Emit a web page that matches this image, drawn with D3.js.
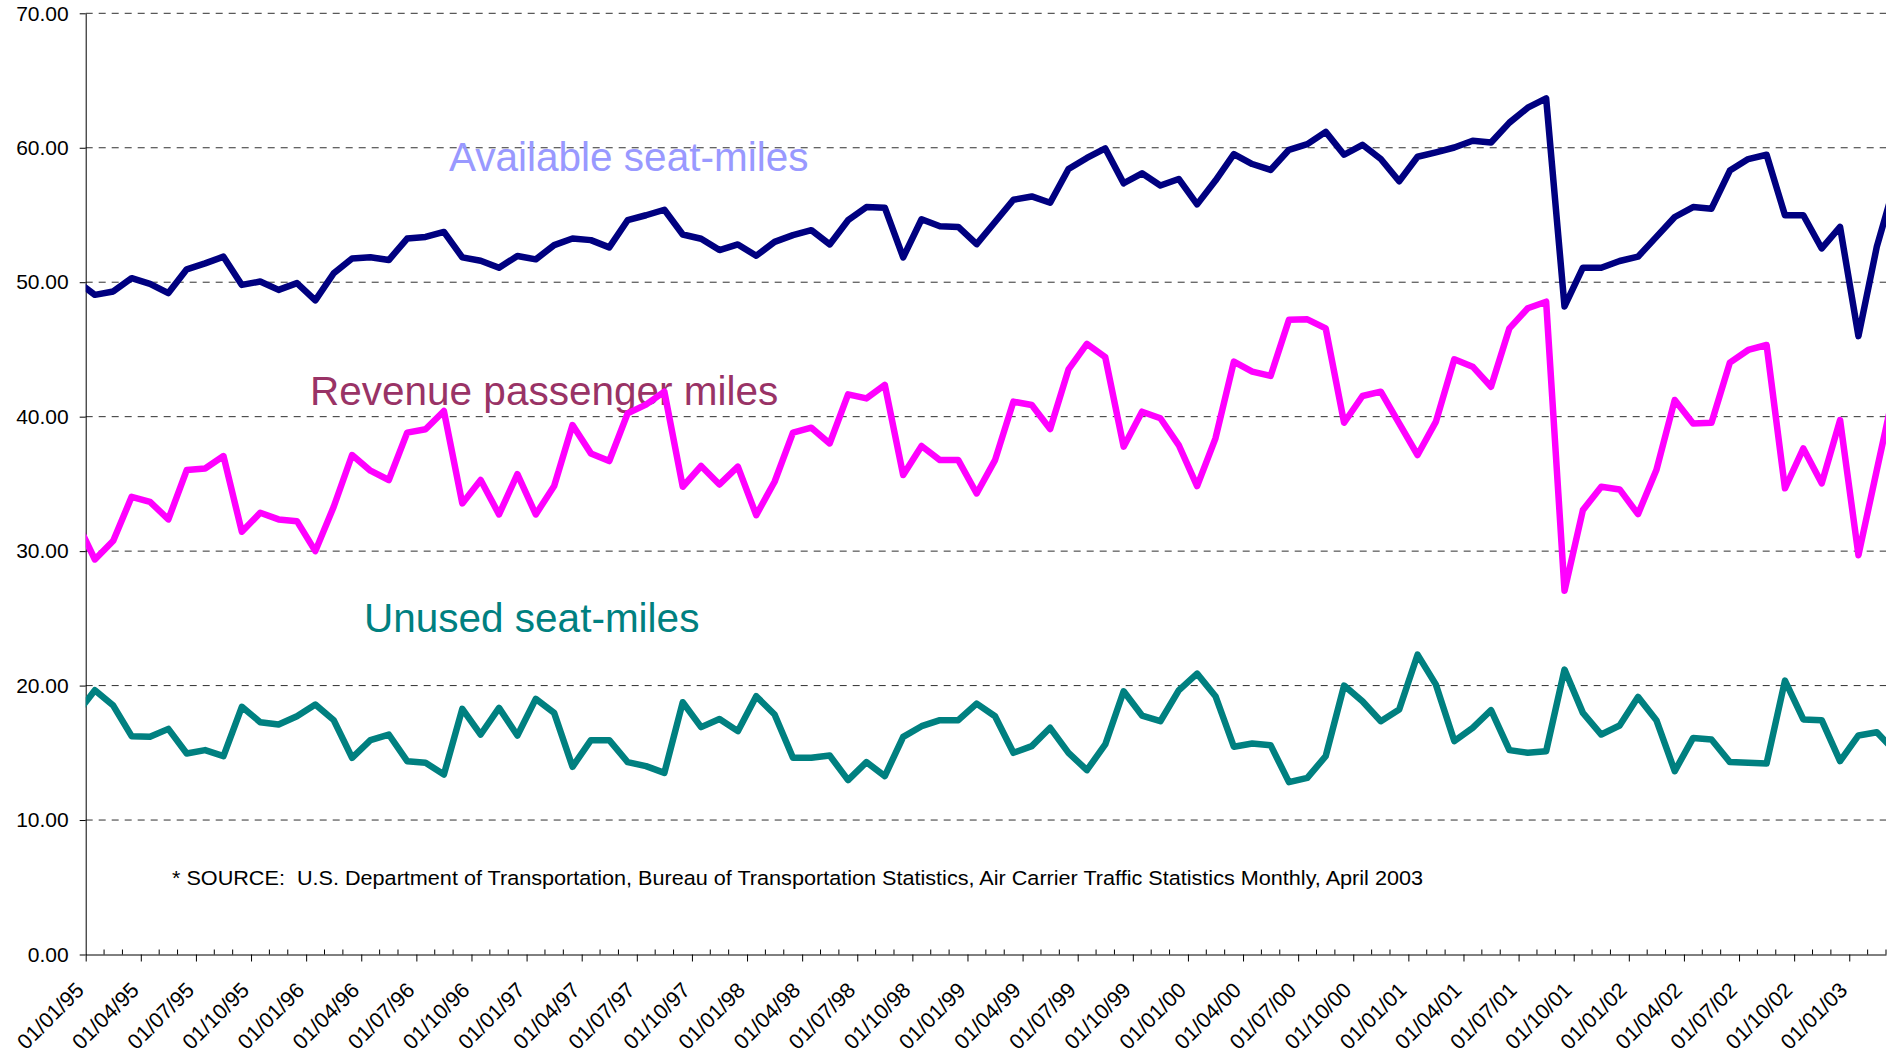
<!DOCTYPE html>
<html>
<head>
<meta charset="utf-8">
<script src="https://cdn.jsdelivr.net/npm/d3@7"></script>
<style>
  html, body { margin: 0; padding: 0; background: #ffffff; }
  svg { display: block; font-family: "Liberation Sans", Arial, sans-serif; }
</style>
</head>
<body>
<svg id="chart" width="1897" height="1058"></svg>
<script>
// Monthly values (billions), December 1994 through March 2003.
// The first and last months sit just outside the axis range and are clipped.
const availableSeatMiles = [
  50.1,
  49.06, 49.31, 50.30, 49.88, 49.19, 50.96, 51.40, 51.90, 49.80, 50.05, 49.43, 49.93,
  48.65, 50.67, 51.77, 51.85, 51.65, 53.25, 53.37, 53.74, 51.85, 51.60, 51.08, 51.95,
  51.70, 52.76, 53.25, 53.13, 52.59, 54.61, 54.98, 55.39, 53.55, 53.23, 52.39, 52.81,
  51.97, 53.00, 53.50, 53.87, 52.81, 54.61, 55.59, 55.54, 51.85, 54.68, 54.16, 54.11,
  52.83, 54.48, 56.13, 56.38, 55.91, 58.42, 59.24, 59.95, 57.36, 58.10, 57.19, 57.68,
  55.79, 57.56, 59.53, 58.79, 58.35, 59.85, 60.27, 61.18, 59.48, 60.22, 59.16, 57.51,
  59.33, 59.66, 60.02, 60.52, 60.39, 61.87, 62.98, 63.67, 48.20, 51.08, 51.08, 51.58,
  51.90, 53.37, 54.85, 55.59, 55.47, 58.30, 59.16, 59.48, 54.98, 54.98, 52.51, 54.11,
  45.99, 52.64, 57.40
];

const revenuePassengerMiles = [
  32.2,
  29.38, 30.77, 34.04, 33.67, 32.36, 36.03, 36.15, 37.07, 31.44, 32.85, 32.36, 32.23,
  30.00, 33.30, 37.15, 35.98, 35.29, 38.81, 39.06, 40.42, 33.55, 35.29, 32.73, 35.73,
  32.73, 34.84, 39.38, 37.27, 36.70, 40.25, 40.90, 41.86, 34.79, 36.33, 34.96, 36.28,
  32.68, 35.16, 38.81, 39.18, 38.01, 41.66, 41.36, 42.36, 35.66, 37.82, 36.77, 36.77,
  34.29, 36.77, 41.12, 40.87, 39.08, 43.52, 45.41, 44.42, 37.77, 40.37, 39.88, 37.89,
  34.84, 38.39, 44.09, 43.35, 43.03, 47.20, 47.24, 46.57, 39.55, 41.54, 41.86, 39.50,
  37.15, 39.63, 44.27, 43.72, 42.23, 46.57, 48.06, 48.55, 27.05, 33.05, 34.79, 34.59,
  32.75, 36.03, 41.24, 39.50, 39.55, 44.02, 44.96, 45.33, 34.67, 37.64, 35.04, 39.75,
  29.70, 36.03, 42.30
];

const unusedSeatMiles = [
  17.9,
  19.65, 18.51, 16.24, 16.19, 16.78, 14.95, 15.20, 14.75, 18.42, 17.28, 17.10, 17.72,
  18.59, 17.43, 14.63, 15.94, 16.36, 14.38, 14.26, 13.39, 18.27, 16.36, 18.34, 16.29,
  19.01, 17.97, 13.96, 15.94, 15.94, 14.31, 14.01, 13.51, 18.76, 16.91, 17.52, 16.61,
  19.21, 17.85, 14.63, 14.63, 14.80, 12.97, 14.31, 13.27, 16.19, 16.98, 17.43, 17.43,
  18.66, 17.72, 15.00, 15.50, 16.86, 15.00, 13.71, 15.62, 19.58, 17.77, 17.35, 19.65,
  20.89, 19.21, 15.45, 15.69, 15.57, 12.82, 13.14, 14.75, 20.00, 18.84, 17.35, 18.22,
  22.30, 20.07, 15.87, 16.86, 18.17, 15.20, 15.00, 15.12, 21.19, 17.97, 16.36, 17.03,
  19.16, 17.43, 13.64, 16.11, 15.99, 14.31, 14.26, 14.21, 20.37, 17.48, 17.43, 14.38,
  16.29, 16.53, 15.10
];

// Quarterly axis labels, one for every third month starting January 1995.
const tickLabels = [
  "01/01/95", "01/04/95", "01/07/95", "01/10/95",
  "01/01/96", "01/04/96", "01/07/96", "01/10/96",
  "01/01/97", "01/04/97", "01/07/97", "01/10/97",
  "01/01/98", "01/04/98", "01/07/98", "01/10/98",
  "01/01/99", "01/04/99", "01/07/99", "01/10/99",
  "01/01/00", "01/04/00", "01/07/00", "01/10/00",
  "01/01/01", "01/04/01", "01/07/01", "01/10/01",
  "01/01/02", "01/04/02", "01/07/02", "01/10/02",
  "01/01/03"
];

const yTicks = [0, 10, 20, 30, 40, 50, 60, 70];

const seriesNames = ["Available seat-miles", "Revenue passenger miles", "Unused seat-miles"];

const sourceNote = "* SOURCE:  U.S. Department of Transportation, Bureau of Transportation Statistics, Air Carrier Traffic Statistics Monthly, April 2003";

// ---------------------------------------------------------------------------
const W = 1897, H = 1058;
const plot = { left: 85.7, right: 1886, top: 13.3, bottom: 954.5 };
const firstIndex = -1;          // arrays begin one month before January 1995
const monthsOnAxis = 98;        // January 1995 .. March 2003 slot boundaries

const svg = d3.select("#chart");
svg.append("rect").attr("width", W).attr("height", H).attr("fill", "#ffffff");

// x: month slots (0 = start of January 1995); points sit mid-slot
const x = d3.scaleLinear().domain([0, monthsOnAxis]).range([plot.left, plot.right]);
const y = d3.scaleLinear().domain([0, 70]).range([plot.bottom, plot.top]);

// dashed horizontal gridlines
svg.append("g")
  .selectAll("line")
  .data(yTicks.filter(v => v > 0))
  .join("line")
  .attr("x1", plot.left).attr("x2", plot.right)
  .attr("y1", d => y(d)).attr("y2", d => y(d))
  .attr("stroke", "#303030")
  .attr("stroke-width", 1)
  .attr("stroke-dasharray", "7,6");

// series labels written inside the plot
const seriesLabels = [
  { text: seriesNames[0], x: 449, y: 171, color: "#9999FF" },
  { text: seriesNames[1], x: 310, y: 405, color: "#993366" },
  { text: seriesNames[2], x: 364, y: 632, color: "#008080" }
];
svg.append("g")
  .selectAll("text")
  .data(seriesLabels)
  .join("text")
  .attr("x", d => d.x).attr("y", d => d.y)
  .attr("fill", d => d.color)
  .attr("font-size", 40.5)
  .text(d => d.text);

// source footnote
svg.append("text")
  .attr("x", 172).attr("y", 885)
  .attr("font-size", 20.5)
  .attr("fill", "#000000")
  .attr("textLength", 1251)
  .attr("lengthAdjust", "spacingAndGlyphs")
  .style("white-space", "pre")
  .text(sourceNote);

// y axis
const yAxis = svg.append("g")
  .attr("transform", `translate(${plot.left},0)`)
  .call(d3.axisLeft(y)
    .tickValues(yTicks)
    .tickSize(6)
    .tickSizeOuter(0)
    .tickPadding(11)
    .tickFormat(d3.format(".2f")));
yAxis.attr("font-family", null).attr("font-size", null);
yAxis.selectAll("text").attr("fill", "#000000").style("font-size", "21px");
yAxis.selectAll("line, path").attr("stroke", "#000000");

// x axis: major ticks every quarter (outside), minor ticks monthly (inside)
const majorMonths = d3.range(0, 97, 3);
const xAxis = svg.append("g")
  .attr("transform", `translate(0,${plot.bottom})`)
  .call(d3.axisBottom(x)
    .tickValues(majorMonths)
    .tickSize(7)
    .tickSizeOuter(0)
    .tickFormat((d, i) => tickLabels[i]));
xAxis.attr("font-family", null).attr("font-size", null);
xAxis.selectAll("line, path").attr("stroke", "#000000");
xAxis.selectAll("text")
  .attr("fill", "#000000")
  .style("font-size", "21.5px")
  .attr("text-anchor", "end")
  .attr("x", 0).attr("y", 0).attr("dy", null)
  .attr("transform", "translate(-1,37) rotate(-45)");

xAxis.append("g")
  .selectAll("line")
  .data(d3.range(1, monthsOnAxis + 1).filter(m => m % 3 !== 0))
  .join("line")
  .attr("x1", d => x(d)).attr("x2", d => x(d))
  .attr("y1", 0).attr("y2", -5)
  .attr("stroke", "#000000");

// data lines, clipped to the plot's horizontal extent
svg.append("defs").append("clipPath").attr("id", "plot-clip")
  .append("rect")
  .attr("x", plot.left).attr("y", 0)
  .attr("width", plot.right - plot.left).attr("height", H);

const line = d3.line()
  .x((d, i) => x(i + firstIndex + 0.5))
  .y(d => y(d));

const series = [
  { values: availableSeatMiles, color: "#000080" },
  { values: revenuePassengerMiles, color: "#FF00FF" },
  { values: unusedSeatMiles, color: "#008080" }
];

svg.append("g")
  .attr("clip-path", "url(#plot-clip)")
  .selectAll("path")
  .data(series)
  .join("path")
  .attr("d", d => line(d.values))
  .attr("fill", "none")
  .attr("stroke", d => d.color)
  .attr("stroke-width", 6.5)
  .attr("stroke-linejoin", "round");
</script>
</body>
</html>
